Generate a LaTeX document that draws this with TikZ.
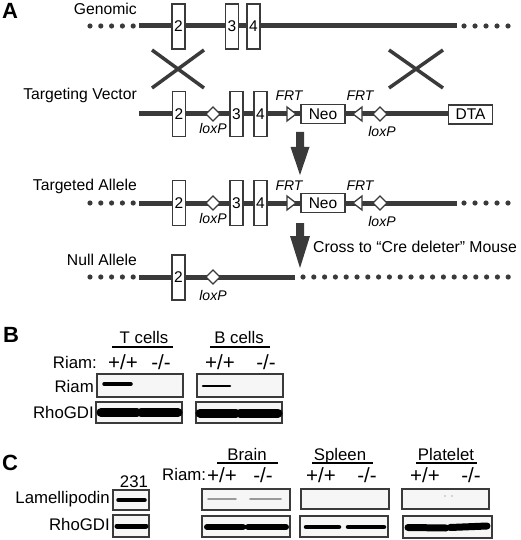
\documentclass[tikz,border=0pt]{standalone}
\usepackage{fontspec}
\setmainfont{Liberation Sans}
\usetikzlibrary{calc}

\definecolor{dna}{HTML}{3A3A3A}
\definecolor{blotbg}{HTML}{F6F6F6}

\tikzset{
	rowname/.style={anchor=base east, inner sep=0pt, font=\fontsize{15.7}{16}\selectfont},
	site/.style={anchor=base, inner sep=0pt, font=\itshape\fontsize{14}{14}\selectfont},
	exon/.style={draw=dna, line width=1.3pt, fill=white, minimum width=13pt, minimum height=45pt, inner sep=0pt, font=\fontsize{15.5}{15}\selectfont},
	cassette/.style={exon, minimum width=44pt, minimum height=19pt},
	panel/.style={anchor=base west, inner sep=0pt, font=\bfseries\fontsize{22}{22}\selectfont},
	blotname/.style={anchor=base east, inner sep=0pt, font=\fontsize{16.8}{17}\selectfont},
	blottxt/.style={anchor=base, inner sep=0pt, font=\fontsize{16.8}{17}\selectfont},
	genotype/.style={anchor=base, inner sep=0pt, font=\fontsize{20.5}{20}\selectfont},
	blot/.style={draw=dna, line width=1.2pt, fill=blotbg},
	band/.style={line width=#1, line cap=round, black},
	backbone/.style={dna, line width=5pt},
	site shape/.style={draw=dna, line width=1.3pt, fill=white}
}

\begin{document}
\begin{tikzpicture}[x=1pt, y=-1pt]
		\useasboundingbox (0,0) rectangle (520,540);

		%panel letters
		\node[panel] (pa) at (2,19) {A};
		\node[panel] (pb) at (3,342) {B};
		\node[panel] (pc) at (2,470) {C};

		%row names
		\node[rowname] (ngen) at (137,15) {Genomic};
		\node[rowname] (ntv) at (137,100) {Targeting Vector};
		\node[rowname] (nta) at (137,190) {Targeted Allele};
		\node[rowname] (nnull) at (137,265) {Null Allele};

		%dotted ends
		\foreach \y in {26,203,277}
			\foreach \i in {0,...,4}
				\fill[dna] ({90+\i*10.8},\y) circle [radius=2.6];
		\foreach \y in {26,203}
			\foreach \i in {0,...,4}
				\fill[dna] ({464+\i*11},\y) circle [radius=2.6];
		\foreach \i in {0,...,19}
			\fill[dna] ({303+\i*10.8},277) circle [radius=2.6];

		%genomic
		\draw[backbone] (139,26) -- (457,26);
		\node[exon] (g2) at (178.5,26.5) {2};
		\node[exon] (g3) at (232,26.5) {3};
		\node[exon] (g4) at (253.5,26.5) {4};

		%crossing over
		\draw[dna, line width=3.5pt] (152,50) -- (204,88) (152,88) -- (204,50);
		\draw[dna, line width=3.5pt] (389,50) -- (443,88) (389,88) -- (443,50);

		%targeting vector and targeted allele
		\draw[backbone] (139,114) -- (449,114);
		\draw[backbone] (139,203) -- (457,203);
		\node[cassette] (dta) at (470.5,114.5) {DTA};
		\foreach \y/\n in {114/tv, 203/ta}{
			\node[exon] (\n2) at (179,\y) {2};
			\node[exon] (\n3) at (236.5,\y) {3};
			\node[exon] (\n4) at (260.5,\y) {4};
			\draw[site shape] (206,\y) -- (213,\y-7) -- (220,\y) -- (213,\y+7) -- cycle;
			\draw[site shape] (373,\y) -- (380,\y-7) -- (387,\y) -- (380,\y+7) -- cycle;
			\draw[site shape] (287,\y-7) -- (296,\y) -- (287,\y+7) -- cycle;
			\draw[site shape] (362,\y-7) -- (353,\y) -- (362,\y+7) -- cycle;
			\node[cassette] (neo\n) at (323,\y) {Neo};
			\node[site] (frta\n) at (289,\y-13) {FRT};
			\node[site] (frtb\n) at (360,\y-13) {FRT};
			\node[site] (loxa\n) at (213,\y+20) {loxP};
			\node[site] (loxb\n) at (382,\y+23) {loxP};
		}

		%null allele
		\draw[backbone] (139,277) -- (295,277);
		\node[exon] (n2) at (178.5,277.5) {2};
		\draw[site shape] (206,277) -- (213,270) -- (220,277) -- (213,284) -- cycle;
		\node[site] (loxn) at (213,300) {loxP};

		%arrows
		\fill[dna] (296,132) -- (304,132) -- (304,147) -- (309.5,147) -- (300,175) -- (290.5,147) -- (296,147) -- cycle;
		\fill[dna] (296,223) -- (304,223) -- (304,236) -- (310,236) -- (300,268) -- (290,236) -- (296,236) -- cycle;
		\node[anchor=base west, inner sep=0pt, font=\fontsize{15.8}{16}\selectfont] (cross) at (313,252) {Cross to “Cre deleter” Mouse};

		%panel B
		\node[blottxt] (tcell) at (144,343) {T cells};
		\node[blottxt] (bcell) at (239,343) {B cells};
		\draw[line width=1.2pt] (112,347) -- (173,347) (210,347) -- (270,347);
		\node[blotname] (riamb) at (97,368) {Riam:};
		\foreach \x/\g [count=\k] in {123/{+/+}, 161/{-/-}, 220/{+/+}, 266/{-/-}}
			\node[genotype] (gb\k) at (\x,369) {\g};
		\node[blotname] (riamrow) at (94,392) {Riam};
		\node[blotname] (gdib) at (94,418) {RhoGDI};
		\draw[blot] (97,374) rectangle (183,397);
		\draw[blot] (96,402) rectangle (182,423);
		\draw[blot] (197,374) rectangle (283,397);
		\draw[blot] (196,402) rectangle (282,423);
		\draw[band=3.5pt] (104,384) -- (131,384);
		\draw[band=2.6pt] (203,386) -- (230,386);
		\draw[band=9pt] (101,412.5) -- (137,412.5) (141,412.5) -- (178,412.5);
		\draw[band=9pt] (200,413) -- (236,413) (240,413) -- (278,413);

		%panel C
		\node[blottxt] (c231) at (134,487) {231};
		\node[anchor=base west, inner sep=0pt, font=\fontsize{16.8}{17}\selectfont] (riamc) at (162,480) {Riam:};
		\node[blottxt] (brain) at (247,460) {Brain};
		\node[blottxt] (spleen) at (340,460) {Spleen};
		\node[blottxt] (plt) at (446,460) {Platelet};
		\draw[line width=1.2pt] (217,463) -- (278,463) (312,463) -- (373,463) (416,463) -- (477,463);
		\foreach \x/\g [count=\k] in {222/{+/+}, 263/{-/-}, 321/{+/+}, 367/{-/-}, 425/{+/+}, 471/{-/-}}
			\node[genotype] (gc\k) at (\x,482) {\g};
		\node[blotname] (lam) at (110,503) {Lamellipodin};
		\node[blotname] (gdic) at (110,530) {RhoGDI};
		\draw[blot] (113,490) rectangle (149,510);
		\draw[blot] (113,515) rectangle (149,537);
		\draw[blot] (202,489) rectangle (290,510);
		\draw[blot] (202,516) rectangle (290,537);
		\draw[blot] (301,489) rectangle (389,509);
		\draw[blot] (300,516) rectangle (388,537);
		\draw[blot] (402,489) rectangle (489,509);
		\draw[blot] (403,516) rectangle (492,538);
		\draw[band=3.5pt] (118,500) -- (145,500);
		\draw[band=5pt] (117,526) -- (146,526);
		\draw[band=1.8pt, gray!80] (208,499) -- (236,499) (250,499) -- (281,499);
		\draw[band=6pt] (207,527) -- (243,527) (248,527) -- (286,527);
		\draw[band=4.5pt] (306,527) -- (339,527) (348,527) -- (384,527);
		\draw[band=7pt] (408,527.5) -- (446,528) (450,527.5) -- (487,526);
		\fill[gray!60] (445,496) circle [radius=0.8] (452,496) circle [radius=0.8];
	\end{tikzpicture}
\end{document}
